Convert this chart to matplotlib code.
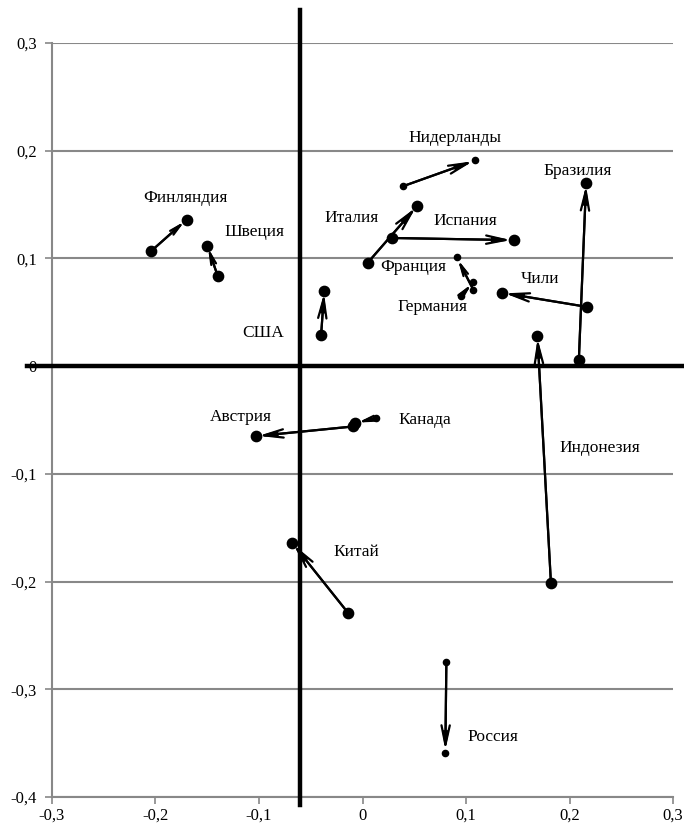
import matplotlib.pyplot as plt
from matplotlib.ticker import FuncFormatter

# страны и координаты: начало -> конец стрелки
countries = ["Финляндия", "Швеция", "США", "Нидерланды", "Италия", "Испания",
             "Франция", "Германия", "Чили", "Бразилия", "Индонезия", "Канада",
             "Австрия", "Китай", "Россия"]
x_start = [-0.204, -0.140, -0.040, 0.039, 0.005, 0.028, 0.107, 0.095, 0.217,
           0.209, 0.182, 0.013, -0.009, -0.014, 0.081]
y_start = [0.107, 0.084, 0.029, 0.167, 0.096, 0.119, 0.071, 0.065, 0.055,
           0.006, -0.201, -0.048, -0.056, -0.229, -0.275]
x_end = [-0.170, -0.150, -0.037, 0.109, 0.053, 0.146, 0.091, 0.107, 0.135,
         0.216, 0.169, -0.007, -0.103, -0.068, 0.080]
y_end = [0.136, 0.112, 0.070, 0.191, 0.149, 0.117, 0.101, 0.078, 0.068,
         0.170, 0.028, -0.053, -0.065, -0.164, -0.359]

# подписи (позиции центров)
label_x = [-0.1715, -0.104, -0.096, 0.089, -0.011, 0.099, 0.049, 0.068, 0.1715,
           0.208, 0.2295, 0.060, -0.118, -0.006, 0.126]
label_y = [0.156, 0.125, 0.031, 0.212, 0.138, 0.135, 0.092, 0.055, 0.081,
           0.181, -0.076, -0.050, -0.047, -0.173, -0.344]

small = {"Нидерланды", "Франция", "Германия", "Россия"}
short = {"Канада", "Германия", "Франция", "Швеция", "Финляндия"}

plt.rcParams['font.family'] = ['Liberation Serif', 'DejaVu Serif']

fig = plt.figure(figsize=(6.84, 8.35), dpi=100)
ax = fig.add_axes([0.076, 0.0455, 0.908, 0.903])

ax.set_xlim(-0.3, 0.3)
ax.set_ylim(-0.4, 0.3)
ax.set_xticks([-0.3, -0.2, -0.1, 0, 0.1, 0.2, 0.3])
ax.set_yticks([-0.4, -0.3, -0.2, -0.1, 0, 0.1, 0.2, 0.3])

fmt = FuncFormatter(lambda v, p: "0" if abs(v) < 1e-9 else f"{v:.1f}".replace(".", ","))
ax.xaxis.set_major_formatter(fmt)
ax.yaxis.set_major_formatter(fmt)
ax.tick_params(colors='#888888', labelcolor='black', labelsize=12, length=5, width=1.2)
ax.tick_params(axis='x', pad=3)
ax.tick_params(axis='y', pad=6)

for s in ['top', 'right']:
    ax.spines[s].set_visible(False)
for s in ['left', 'bottom']:
    ax.spines[s].set_color('#888888')
    ax.spines[s].set_linewidth(1.5)

ax.yaxis.grid(True, color='#888888', lw=1.5)
ax.set_axisbelow(True)

# толстые оси
ax.plot([-0.324, 0.312], [0, 0], color='black', lw=3.2, clip_on=False, zorder=3)
ax.plot([-0.060, -0.060], [0.331, -0.407], color='black', lw=3.2, clip_on=False, zorder=3)

for i, name in enumerate(countries):
    k = 0.6 if name in short else 1.0
    # открытые "усы" стрелки + залитый узкий наконечник (похоже на stealth)
    ax.annotate('', xy=(x_end[i], y_end[i]), xytext=(x_start[i], y_start[i]),
                arrowprops=dict(arrowstyle=f'->,head_length={1.4*k},head_width={0.3*k}',
                                color='black', lw=1.6, shrinkA=0, shrinkB=2),
                zorder=4)
    ax.annotate('', xy=(x_end[i], y_end[i]), xytext=(x_start[i], y_start[i]),
                arrowprops=dict(arrowstyle=f'-|>,head_length={0.9*k},head_width={0.16*k}',
                                color='black', lw=1.6, shrinkA=0, shrinkB=2),
                zorder=4)
    s_start = 20 if (name in small or name == "Канада") else 55
    s_end = 20 if name in small else 55
    ax.scatter([x_start[i]], [y_start[i]], s=s_start, color='black', zorder=5)
    ax.scatter([x_end[i]], [y_end[i]], s=s_end, color='black', zorder=5)
    ax.text(label_x[i], label_y[i], name, ha='center', va='center', fontsize=12.5)

plt.savefig("out.png", dpi=100)
